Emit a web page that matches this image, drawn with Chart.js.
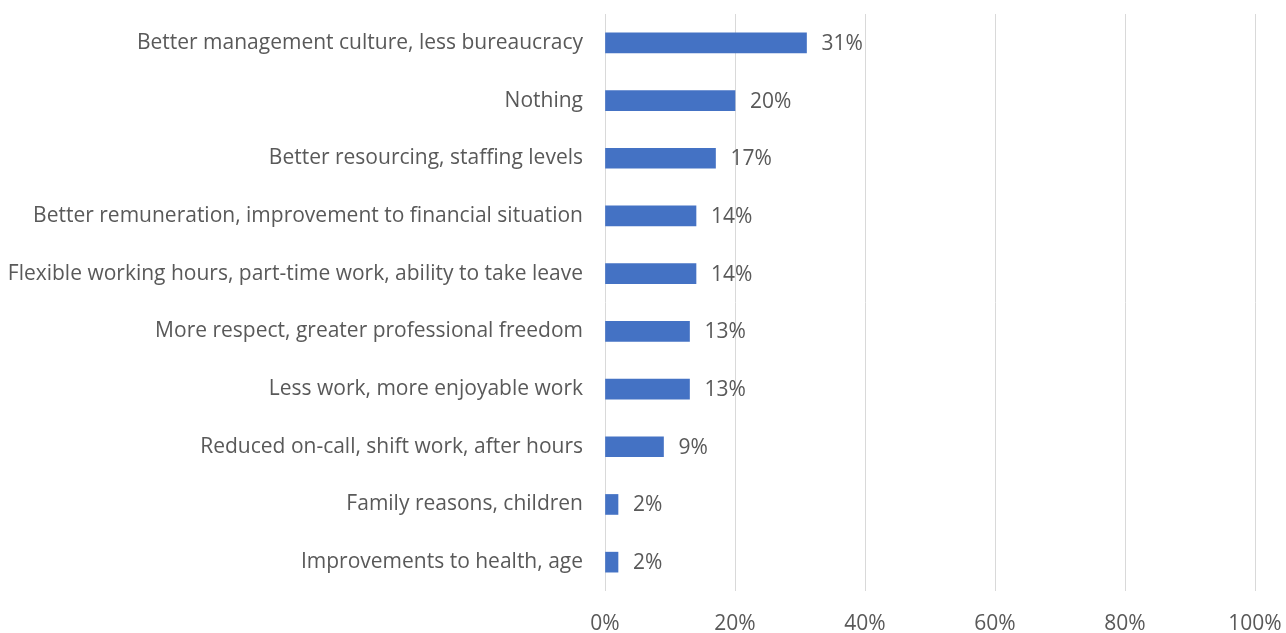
<!DOCTYPE html>
<html>
<head>
<meta charset="utf-8">
<script src="https://cdn.jsdelivr.net/npm/chart.js@4/dist/chart.umd.min.js"></script>
<style>
  html, body { margin: 0; padding: 0; background: #fff; }
  #wrap { width: 1286px; height: 633px; }
</style>
</head>
<body>
<div id="wrap"><canvas id="chart" width="1286" height="633"></canvas></div>
<script>
const categories = [
  'Better management culture, less bureaucracy',
  'Nothing',
  'Better resourcing, staffing levels',
  'Better remuneration, improvement to financial situation',
  'Flexible working hours, part-time work, ability to take leave',
  'More respect, greater professional freedom',
  'Less work, more enjoyable work',
  'Reduced on-call, shift work, after hours',
  'Family reasons, children',
  'Improvements to health, age'
];
const values = [31, 20, 17, 14, 14, 13, 13, 9, 2, 2];
const xTicks = [0, 20, 40, 60, 80, 100];

const FONT = { family: '"Open Sans", sans-serif', size: 21 };
const TEXT = '#595959';

// value labels to the right of each bar
const barLabels = {
  id: 'barLabels',
  afterDatasetsDraw(chart) {
    const ctx = chart.ctx;
    const meta = chart.getDatasetMeta(0);
    ctx.save();
    ctx.fillStyle = TEXT;
    ctx.font = FONT.size + 'px ' + FONT.family;
    ctx.textAlign = 'left';
    ctx.textBaseline = 'middle';
    meta.data.forEach((bar, i) => {
      ctx.fillText(values[i] + '%', bar.x + 15, bar.y + 1);
    });
    ctx.restore();
  }
};

const ctx = document.getElementById('chart');
new Chart(ctx, {
  type: 'bar',
  data: {
    labels: categories,
    datasets: [{
      data: values,
      backgroundColor: '#4472c4',
      barThickness: 20
    }]
  },
  options: {
    indexAxis: 'y',
    responsive: false,
    animation: false,
    layout: { padding: { top: 14, right: 31, left: 0, bottom: 0 } },
    plugins: {
      legend: { display: false },
      tooltip: { enabled: false }
    },
    scales: {
      x: {
        min: 0,
        max: 100,
        afterBuildTicks: s => { s.ticks = xTicks.map(v => ({ value: v })); },
        grid: { color: '#d9d9d9', lineWidth: 1, drawTicks: false },
        border: { display: false },
        ticks: {
          color: TEXT,
          font: FONT,
          padding: 20,
          maxRotation: 0,
          callback: v => v + '%'
        },
        afterFit: s => {
          s.height = 42;
          s.paddingLeft = 0;
          s.paddingRight = 0;
        }
      },
      y: {
        grid: { display: false },
        border: { display: false },
        ticks: { color: TEXT, font: FONT, padding: 14, autoSkip: false },
        afterFit: s => {
          s.width = 605;
          s.paddingTop = 0;
          s.paddingBottom = 0;
        }
      }
    }
  },
  plugins: [barLabels]
});
</script>
</body>
</html>
